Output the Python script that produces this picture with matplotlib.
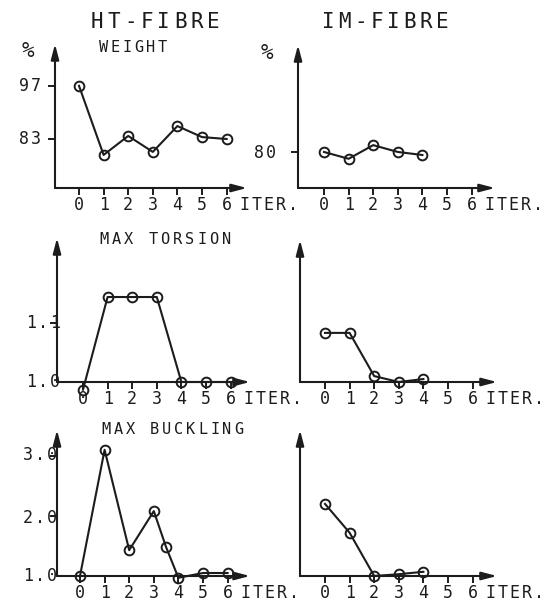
import numpy as np
import matplotlib.pyplot as plt

# values
iters_ht = [0, 1, 2, 3, 4, 5, 6]
iters_im = [0, 1, 2, 3, 4]
weight_ht = [97, 78.8, 83.8, 79.6, 86.4, 83.5, 83.0]
weight_im = [80, 78.2, 81.8, 80.0, 79.2]
torsion_ht = [0.987, 1.144, 1.144, 1.144, 1.0, 1.0, 1.0]
torsion_im = [1.083, 1.083, 1.01, 1.0, 1.005]
buck_x_ht = [0, 1, 2, 3, 3.5, 4, 5, 6]
buckling_ht = [1.0, 3.1, 1.43, 2.08, 1.48, 0.97, 1.05, 1.05]
buckling_im = [2.2, 1.72, 1.0, 1.03, 1.07]

xticks = [0, 1, 2, 3, 4, 5, 6]
ink = '#1c1c1c'
W, H = 550, 601
PITCH = 24.6  # pixels per iteration
FONT = 'DejaVu Sans Mono'

fig = plt.figure(figsize=(5.5, 6.01), dpi=100)
fig.patch.set_facecolor('white')


def put(s, x, y, pitch, size):
    # plotter style lettering: one character per fixed cell
    for i, ch in enumerate(s):
        fig.text((x + pitch * (i + 0.5)) / W, 1 - y / H, ch, ha='center', va='center',
                 fontsize=size, color=ink, family=FONT)


def panel(left, right, axis_y, top, x0, ylim, yt=()):
    ax = fig.add_axes([left / W, 1 - axis_y / H, (right - left) / W, (axis_y - top) / H])
    xmin = -(x0 - left) / PITCH
    ax.set_xlim(xmin, xmin + (right - left) / PITCH)
    ax.set_ylim(*ylim)
    for sp in ax.spines.values():
        sp.set_visible(False)
    ax.set_xticks(xticks)
    ax.set_xticklabels([])
    ax.set_yticks(list(yt))
    ax.set_yticklabels([])
    ax.tick_params(direction='out', length=5, width=1.4, color=ink)
    arrow = dict(arrowstyle='-|>,head_length=0.65,head_width=0.17', lw=1.5, color=ink,
                 mutation_scale=14, shrinkA=0, shrinkB=0)
    ax.annotate('', xy=(1, 0), xytext=(0, 0), xycoords='axes fraction', arrowprops=arrow)
    ax.annotate('', xy=(0, 1), xytext=(0, 0), xycoords='axes fraction', arrowprops=arrow)
    # tick digits and the ITER. label
    for t in xticks:
        fig.text((x0 + t * PITCH) / W, 1 - (axis_y + 17) / H, str(t), ha='center', va='center',
                 fontsize=12, color=ink, family=FONT)
    put('ITER.', x0 + 6 * PITCH + 12, axis_y + 17, 12, 12)
    return ax


def line(ax, x, y):
    ax.plot(x, y, '-o', color=ink, lw=1.5, ms=7, mfc='none', mec=ink, mew=1.4, clip_on=False)


ax = panel(55, 247, 188, 44, 79, (70.1, 108), yt=[83, 97])
line(ax, iters_ht, weight_ht)
ax = panel(298, 495, 188, 45, 324, (70.5, 108.2), yt=[80])
line(ax, iters_im, weight_im)
ax = panel(57, 250, 382, 238, 83, (1.0, 1.244), yt=[1.1])
line(ax, iters_ht, torsion_ht)
ax = panel(300, 497, 382, 240, 325, (1.0, 1.24))
line(ax, iters_im, torsion_im)
ax = panel(57, 250, 576, 430, 80, (1.0, 3.43), yt=[2.0, 3.0])
line(ax, buck_x_ht, buckling_ht)
ax = panel(300, 497, 576, 430, 325, (1.0, 3.43))
line(ax, iters_im, buckling_im)

# titles
put('HT-FIBRE', 89, 22, 16.6, 15)
put('IM-FIBRE', 320, 22, 16.3, 15)
put('WEIGHT', 98, 47, 11.6, 11)
put('MAX TORSION', 98, 239, 12.2, 11)
put('MAX BUCKLING', 100, 430, 12.1, 11)

# y labels
put('%', 21, 51, 14, 15)
put('%', 260, 53, 14, 15)
put('97', 18, 86, 12, 12)
put('83', 18, 139, 12, 12)
put('80', 253, 153, 12, 12)
put('1.1', 25, 323, 12, 12)
put('1.0', 25, 382, 12, 12)
put('3.0', 22, 455, 12, 12)
put('2.0', 22, 518, 12, 12)
put('1.0', 22, 576, 12, 12)

fig.savefig('out.png', dpi=100, facecolor='white')
